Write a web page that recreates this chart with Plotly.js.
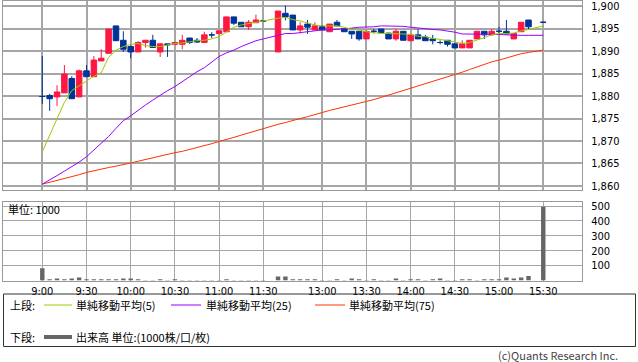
<!DOCTYPE html>
<html>
<head>
<meta charset="utf-8">
<script src="https://cdn.plot.ly/plotly-3.0.1.min.js"></script>
<style>html,body{margin:0;padding:0;background:#fff;}#chart{width:638px;height:362px;}</style>
</head>
<body>
<div id="chart"></div>
<script>
// ---- data (5-minute bars) ----
const times = ["9:00","9:05","9:10","9:15","9:20","9:25","9:30","9:35","9:40","9:45","9:50","9:55",
"10:00","10:05","10:10","10:15","10:20","10:25","10:30","10:35","10:40","10:45","10:50","10:55",
"11:00","11:05","11:10","11:15","11:20","11:25","11:30",
"12:30","12:35","12:40","12:45","12:50","12:55","13:00","13:05","13:10","13:15","13:20","13:25",
"13:30","13:35","13:40","13:45","13:50","13:55","14:00","14:05","14:10","14:15","14:20","14:25",
"14:30","14:35","14:40","14:45","14:50","14:55","15:00","15:05","15:10","15:15","15:20","15:30"];
const opens = [1879.9,1880.1,1879.8,1880.7,1883.9,1879.8,1885.6,1884.3,1887.8,1889.5,1895.6,1892.4,
1891.0,1889.8,1891.9,1892.4,1889.8,1891.6,1891.5,1891.5,1892.9,1892.4,1891.9,1893.6,
1893.9,1894.3,1897.6,1896.4,1895.4,1896.3,1896.7,
1889.8,1898.4,1898.0,1894.7,1896.0,1894.7,1895.4,1894.3,1896.4,1895.0,1894.4,1894.4,
1892.7,1894.4,1894.9,1894.0,1892.7,1894.4,1892.3,1893.6,1893.1,1892.7,1891.9,1892.4,
1891.6,1890.7,1890.7,1892.7,1894.4,1893.6,1894.4,1894.4,1892.7,1894.3,1896.9,1896.4];
const highs = [1888.9,1880.5,1882.4,1886.9,1884.4,1885.9,1886.9,1888.9,1890.4,1894.9,1895.6,1894.4,
1891.3,1892.2,1892.4,1893.6,1891.8,1891.6,1891.9,1893.6,1892.9,1892.9,1894.3,1894.2,
1894.5,1897.6,1897.6,1896.4,1896.9,1898.1,1896.7,
1898.9,1900.1,1898.0,1896.4,1896.9,1896.4,1895.8,1896.0,1896.9,1895.0,1894.4,1894.4,
1894.4,1894.9,1894.9,1894.0,1894.9,1894.4,1893.6,1894.9,1893.6,1893.6,1892.4,1892.4,
1891.6,1892.4,1892.4,1894.4,1894.4,1894.9,1895.4,1896.9,1893.9,1896.4,1896.9,1896.4];
const lows = [1878.2,1876.7,1877.8,1880.7,1879.4,1879.8,1884.3,1884.3,1887.8,1889.5,1892.3,1889.8,
1888.4,1889.8,1890.8,1890.8,1888.7,1888.7,1891.5,1890.4,1891.6,1891.8,1891.9,1892.9,
1893.9,1894.3,1895.8,1895.4,1894.7,1896.3,1896.7,
1889.8,1896.8,1894.7,1893.9,1893.8,1894.7,1894.7,1894.3,1895.6,1894.3,1892.7,1892.3,
1892.7,1893.9,1894.1,1892.7,1892.3,1892.4,1892.3,1892.7,1892.3,1891.5,1891.5,1891.0,
1890.7,1890.7,1890.7,1892.7,1892.7,1893.6,1893.6,1893.8,1892.7,1894.3,1894.9,1896.4];
const closes = [1879.9,1879.4,1880.9,1884.9,1879.4,1885.6,1884.3,1888.0,1888.4,1894.9,1892.3,1890.4,
1889.8,1891.9,1892.4,1890.8,1891.6,1891.4,1891.9,1892.4,1891.9,1892.0,1893.6,1893.6,
1894.5,1897.6,1896.2,1895.4,1896.4,1896.9,1896.7,
1898.9,1897.6,1894.7,1895.6,1895.3,1895.6,1894.7,1896.0,1895.6,1894.3,1893.8,1892.7,
1894.4,1894.4,1894.1,1892.7,1894.4,1892.4,1893.6,1892.7,1892.3,1892.3,1891.9,1891.5,
1890.7,1891.6,1892.4,1894.4,1893.6,1894.4,1894.4,1893.8,1893.9,1896.4,1895.4,1896.4];
const sma5 = [1867.6,1871.3,1875.0,1878.6,1881.2,1882.3,1883.4,1884.4,1885.2,1888.6,1890.2,1891.0,
1891.5,1891.7,1891.2,1891.0,1891.0,1891.4,1891.7,1891.8,1892.1,1892.3,1892.4,1892.7,
1893.2,1894.3,1895.3,1895.8,1896.1,1896.5,1896.7,
1897.3,1897.5,1897.0,1896.7,1896.3,1895.8,1895.6,1895.6,1895.6,1895.3,1894.8,1894.7,
1894.3,1894.1,1893.9,1893.9,1893.9,1893.8,1893.7,1893.3,1893.2,1892.8,1892.6,1892.3,
1891.9,1891.7,1891.9,1892.4,1893.0,1893.6,1893.9,1893.9,1894.0,1894.5,1894.8,1895.6];
const sma25 = [1860.4,1861.3,1862.3,1863.3,1864.3,1865.3,1866.5,1868.0,1869.5,1871.0,1872.8,1874.5,
1875.6,1876.9,1878.0,1879.1,1880.2,1881.2,1882.1,1883.2,1884.4,1885.4,1886.3,1887.5,
1888.8,1889.6,1890.2,1891.0,1891.7,1892.3,1892.7,
1893.6,1893.9,1893.9,1894.1,1894.3,1894.4,1894.7,1894.7,1894.8,1895.0,1895.1,1895.3,
1895.3,1895.4,1895.6,1895.6,1895.6,1895.5,1895.3,1895.1,1895.0,1894.8,1894.7,1894.5,
1894.2,1893.8,1893.8,1893.8,1893.8,1893.8,1893.7,1893.6,1893.5,1893.5,1893.5,1893.5];
const sma75 = [1860.4,1860.8,1861.3,1861.7,1862.1,1862.5,1863.0,1863.4,1863.8,1864.1,1864.4,1864.7,
1865.1,1865.5,1865.9,1866.3,1866.6,1867.0,1867.4,1867.7,1868.1,1868.5,1869.0,1869.4,
1869.9,1870.3,1870.8,1871.3,1871.8,1872.3,1872.8,
1873.7,1874.1,1874.6,1875.0,1875.4,1875.9,1876.3,1876.8,1877.2,1877.6,1877.9,1878.3,
1878.7,1879.2,1879.7,1880.2,1880.7,1881.2,1881.7,1882.2,1882.7,1883.2,1883.7,1884.2,
1884.7,1885.3,1885.9,1886.5,1887.1,1887.6,1888.0,1888.5,1889.0,1889.4,1889.7,1890.2];
const volume = [82,8,14,8,14,20,8,8,8,8,8,14,
14,8,4,4,8,4,8,4,3,3,3,3,
4,8,4,3,3,3,3,
27,27,8,8,8,8,4,3,8,4,14,8,
4,8,4,4,14,4,8,8,4,8,14,4,
4,8,8,4,8,8,8,20,14,20,31,495];
const tickLabels = ["9:00","9:30","10:00","10:30","11:00","11:30","13:00","13:30","14:00","14:30","15:00","15:30"];
const priceTicks = [1860,1865,1870,1875,1880,1885,1890,1895,1900];
const volumeTicks = [100,200,300,400,500];

// ---- session-compressed time axis (lunch break shown as one empty slot) ----
function slotOf(t){
  const p = t.split(':').map(Number); const m = p[0]*60 + p[1];
  return m <= 690 ? (m - 540)/5 : (m - 750)/5 + 32;
}
const xs = times.map(slotOf);
const tickPos = tickLabels.map(slotOf);

const RED = '#ff1744', BLUE = '#003399';
const up = closes.map((c,i)=> c > opens[i]);
function pick(arr, dir){ return arr.filter((_,i)=> up[i] === dir); }
function candle(dir, col){
  return {type:'candlestick', x:pick(xs,dir), open:pick(opens,dir), high:pick(highs,dir),
    low:pick(lows,dir), close:pick(closes,dir), xaxis:'x', yaxis:'y', whiskerwidth:0,
    increasing:{line:{color:col,width:1}, fillcolor:col},
    decreasing:{line:{color:col,width:1}, fillcolor:col}, hoverinfo:'skip'};
}
function ma(vals, col){
  return {type:'scatter', mode:'lines', x:xs, y:vals, xaxis:'x', yaxis:'y',
    line:{color:col, width:1}, hoverinfo:'skip'};
}
const data = [
  ma(sma75,'#ff3300'), ma(sma25,'#9900ff'), ma(sma5,'#99cc00'),
  candle(true, RED), candle(false, BLUE),
  {type:'bar', x:xs, y:volume, xaxis:'x2', yaxis:'y2', width:0.6,
   marker:{color:'#666666', line:{width:0}}, hoverinfo:'skip'}
];

const W = 638, H = 362;
const px = v => v / W, py = v => 1 - v / H;
const X0 = 3, X1 = 582;
const xr = [(X0 - 42.3)/7.367, (X1 - 42.3)/7.367];
const tickFont = {family:'DejaVu Sans Condensed, DejaVu Sans, sans-serif', size:11, color:'#000'};
const jp = 'Noto Sans CJK JP, sans-serif';

const shapes = [
  {type:'rect', xref:'paper', yref:'paper', x0:px(3.5), x1:px(635.5), y0:py(346.5), y1:py(294),
   line:{color:'#333', width:1}},
  {type:'line', xref:'paper', yref:'paper', x0:px(44), x1:px(72), y0:py(305), y1:py(305), line:{color:'#99cc00', width:1}},
  {type:'line', xref:'paper', yref:'paper', x0:px(171), x1:px(201), y0:py(305), y1:py(305), line:{color:'#9900ff', width:1}},
  {type:'line', xref:'paper', yref:'paper', x0:px(315), x1:px(345), y0:py(305), y1:py(305), line:{color:'#ff3300', width:1}},
  {type:'line', xref:'paper', yref:'paper', x0:px(44), x1:px(72), y0:py(337), y1:py(337), line:{color:'#666666', width:4}}
];
function note(text, x, y, anchor, size, color){
  return {text:text, xref:'paper', yref:'paper', x:px(x), y:py(y), xanchor:anchor||'left', yanchor:'middle',
    showarrow:false, borderpad:0, font:{family:jp, size:size||11, color:color||'#000'}};
}
const annotations = [
  note('単位: 1000', 7, 209),
  note('上段:', 9, 305), note('単純移動平均(5)', 75, 305), note('単純移動平均(25)', 205, 305), note('単純移動平均(75)', 348, 305),
  note('下段:', 9, 337), note('出来高 単位:(1000株/口/枚)', 75, 337),
  note('(c)Quants Research Inc.', 619, 354.5, 'right', 11, '#444')
];

const layout = {
  width:W, height:H, margin:{l:0,r:0,t:0,b:0}, paper_bgcolor:'#fff', plot_bgcolor:'#fff',
  showlegend:false, boxgap:0.25, boxgroupgap:0,
  xaxis:{domain:[px(X0), px(X1)], range:xr, tickvals:tickPos, showticklabels:false, ticks:'',
    showgrid:true, gridcolor:'#a6a6a6', gridwidth:2, zeroline:false, showline:true, mirror:true,
    linecolor:'#999', linewidth:1, rangeslider:{visible:false}, anchor:'y', fixedrange:true},
  yaxis:{domain:[py(190), py(0.7)], range:[1859.1, 1901.2], side:'right', tickvals:priceTicks, tickformat:',d',
    ticks:'outside', ticklen:6, tickcolor:'rgba(0,0,0,0)', tickfont:tickFont, ticklabeloverflow:'allow',
    showgrid:true, gridcolor:'#a6a6a6', gridwidth:2, zeroline:false, showline:true, mirror:true,
    linecolor:'#999', linewidth:1, anchor:'x', fixedrange:true},
  xaxis2:{domain:[px(X0), px(X1)], range:xr, matches:'x', tickvals:tickPos, ticktext:tickLabels, ticks:'',
    tickfont:tickFont, showgrid:true, gridcolor:'#a6a6a6', gridwidth:1, zeroline:false, showline:true, mirror:true,
    linecolor:'#999', linewidth:1, anchor:'y2', fixedrange:true},
  yaxis2:{domain:[py(280.5), py(202)], range:[0, 527], side:'right', tickvals:volumeTicks,
    ticks:'outside', ticklen:6, tickcolor:'rgba(0,0,0,0)', tickfont:tickFont, ticklabeloverflow:'allow',
    showgrid:true, gridcolor:'#a6a6a6', gridwidth:1, zeroline:false, showline:true, mirror:true,
    linecolor:'#999', linewidth:1, anchor:'x2', fixedrange:true},
  shapes:shapes, annotations:annotations
};
Plotly.newPlot('chart', data, layout, {staticPlot:true, displayModeBar:false});
</script>
</body>
</html>
